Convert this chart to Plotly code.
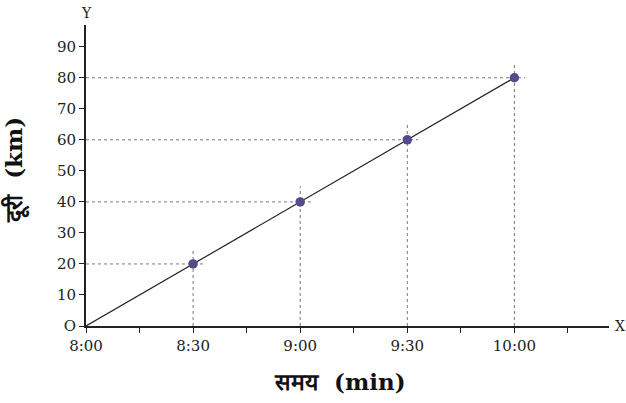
import plotly.graph_objects as go

# Distance-time data: minutes after 8:00 and distance in km
minutes = [30, 60, 90, 120]
distance_km = [20, 40, 60, 80]

x_tick_vals = [0, 15, 30, 45, 60, 75, 90, 105, 120, 135]
x_tick_text = ["8:00", "", "8:30", "", "9:00", "", "9:30", "", "10:00", ""]
y_tick_vals = [0, 10, 20, 30, 40, 50, 60, 70, 80, 90]
y_tick_text = ["O", "10", "20", "30", "40", "50", "60", "70", "80", "90"]

serif = "DejaVu Serif, Liberation Serif, serif"
guide_color = "#7a7a7a"

fig = go.Figure()

# Dotted guide lines from each point back to the axes
x_over, y_over = 3.0, 5.0
for xm, yd in zip(minutes, distance_km):
    fig.add_trace(go.Scatter(
        x=[0, xm + x_over], y=[yd, yd], mode="lines",
        line=dict(color=guide_color, width=1, dash="dot"),
        hoverinfo="skip", showlegend=False, cliponaxis=False))
    fig.add_trace(go.Scatter(
        x=[xm, xm], y=[0, yd + y_over], mode="lines",
        line=dict(color=guide_color, width=1, dash="dot"),
        hoverinfo="skip", showlegend=False, cliponaxis=False))

# Straight line through the origin and the points
fig.add_trace(go.Scatter(
    x=[0] + minutes, y=[0] + distance_km, mode="lines",
    line=dict(color="#222222", width=1.2),
    showlegend=False, hoverinfo="skip"))

fig.add_trace(go.Scatter(
    x=minutes, y=distance_km, mode="markers",
    marker=dict(color="#524d8a", size=9.5),
    showlegend=False))

fig.update_layout(
    width=626, height=403,
    margin=dict(l=86, r=17, t=25, b=77),
    plot_bgcolor="white", paper_bgcolor="white",
    font=dict(family=serif, size=15, color="#222222"),
    xaxis=dict(
        range=[0, 146.5], tickvals=x_tick_vals, ticktext=x_tick_text,
        showgrid=False, zeroline=False,
        showline=True, linecolor="#222222", linewidth=1.8,
        ticks="outside", ticklen=5, tickwidth=1, tickcolor="#222222",
        tickfont=dict(family=serif, size=15, color="#222222"),
    ),
    yaxis=dict(
        range=[0, 97], tickvals=y_tick_vals, ticktext=y_tick_text,
        showgrid=False, zeroline=False,
        showline=True, linecolor="#222222", linewidth=1.8,
        ticks="outside", ticklen=5, tickwidth=1, tickcolor="#222222",
        tickfont=dict(family=serif, size=15, color="#222222"),
    ),
    annotations=[
        dict(text="Y", x=0, y=1, xref="paper", yref="paper",
             xanchor="center", yanchor="bottom", yshift=2, showarrow=False,
             font=dict(family=serif, size=14, color="#222222")),
        dict(text="X", x=1, y=0, xref="paper", yref="paper",
             xanchor="left", yanchor="middle", xshift=4, showarrow=False,
             font=dict(family=serif, size=14, color="#222222")),
        dict(text="<b>समय  (min)</b>", x=0.485, y=-0.186, xref="paper", yref="paper",
             xanchor="center", yanchor="middle", showarrow=False,
             font=dict(family=serif, size=23, color="#111111")),
        dict(text="<b>दूरी  (km)</b>", x=-0.135, y=0.52, xref="paper", yref="paper",
             xanchor="center", yanchor="middle", textangle=-90, showarrow=False,
             font=dict(family=serif, size=23, color="#111111")),
    ],
)

fig.write_html("out.html")
